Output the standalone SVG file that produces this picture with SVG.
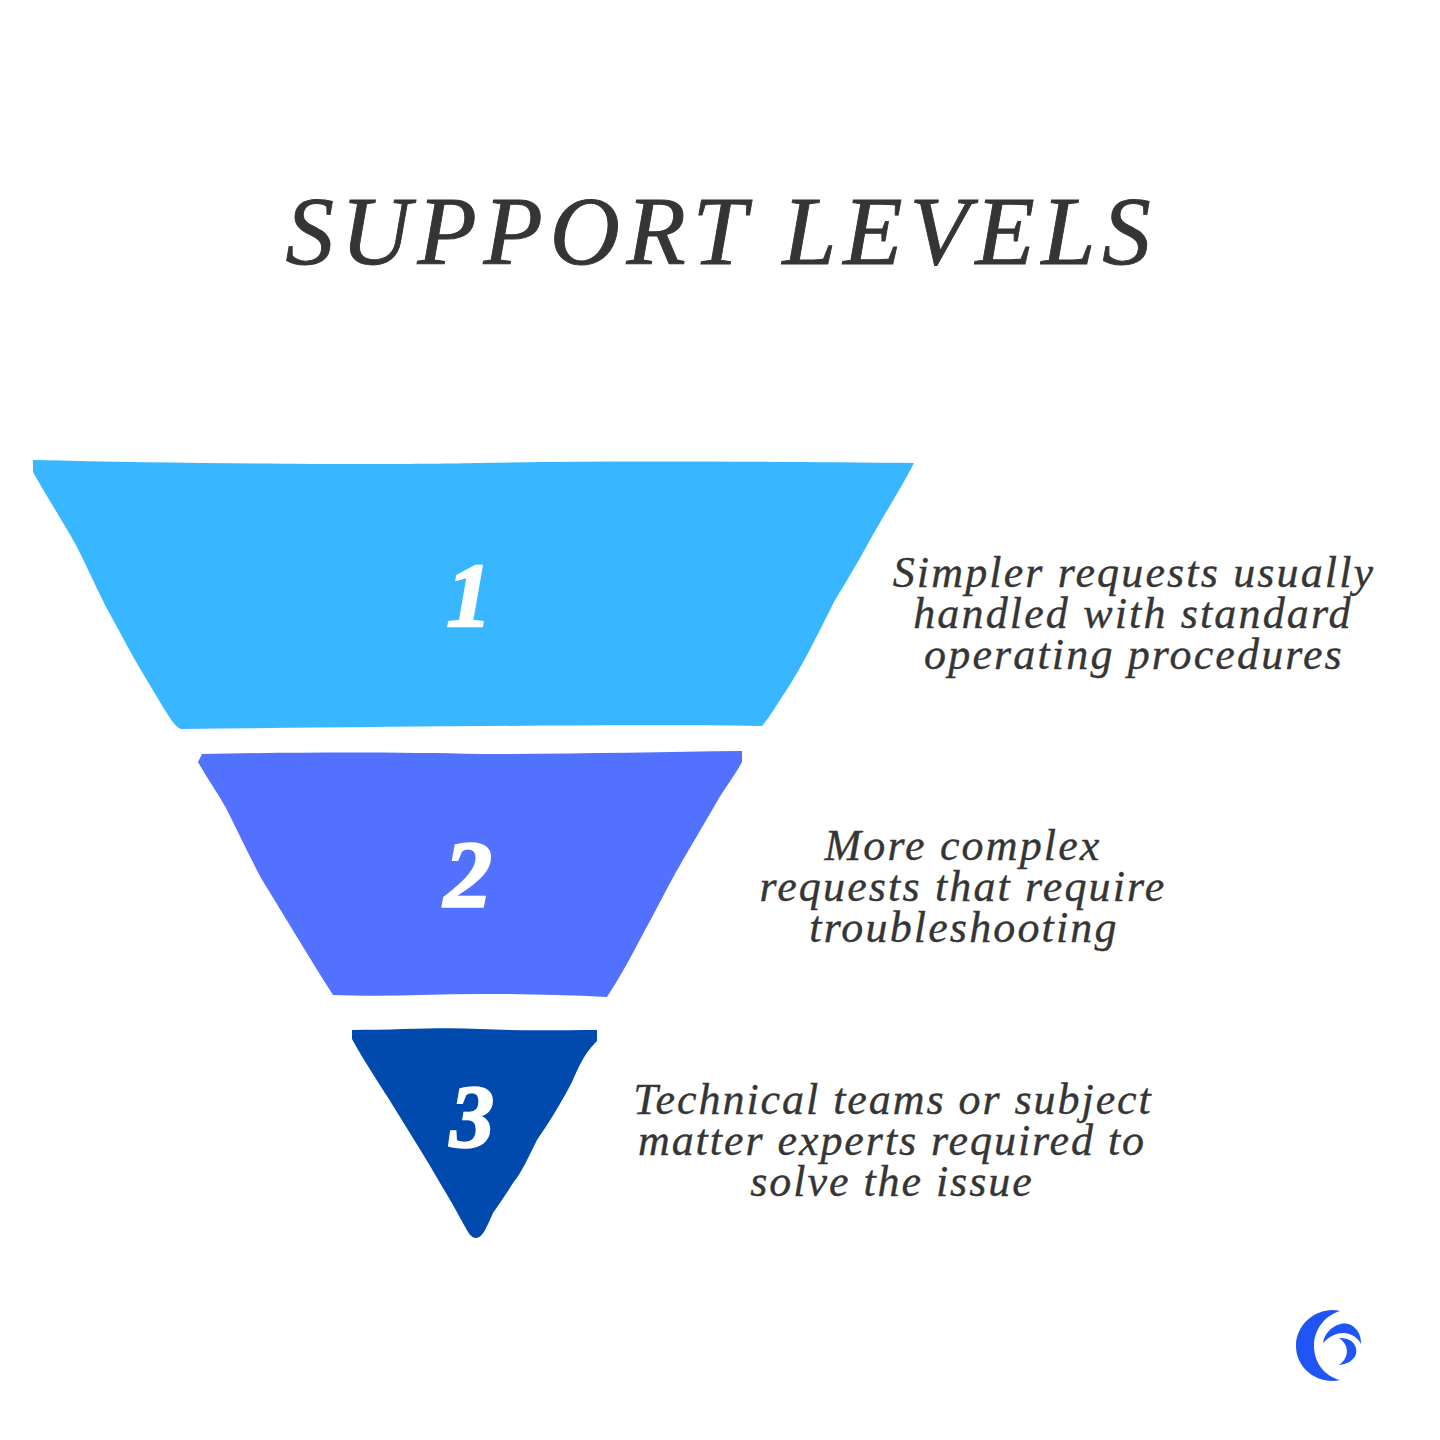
<svg xmlns="http://www.w3.org/2000/svg" width="1440" height="1440" viewBox="0 0 1440 1440">
<style>
text{font-family:"Liberation Serif","DejaVu Serif",serif;font-style:italic;fill:#353535;text-anchor:middle}
.t{font-size:97px;letter-spacing:6.8px;stroke:#353535;stroke-width:.9px}
.d{font-size:44px;letter-spacing:2.15px;stroke:#353535;stroke-width:.35px}
#desc-3 .d{letter-spacing:1.95px}
.n{font-weight:700;fill:#fff;stroke:#fff;stroke-width:2.5px}
</style>
<rect width="1440" height="1440" fill="#fff"/>
<text class="t" x="721.5" y="264">SUPPORT LEVELS</text>
<g id="level-1">
<path fill="#38b6ff" d="M33 460C200 464 400 465 480 463C620 460 780 462 914 463C900 490 885 513 870 540C858 562 846 582 835 600C825 620 815 640 806 657C796 675 787 690 778 703C772 713 767 720 762 726C600 724 400 727 181 729C175 727 170 718 163 707C154 692 145 677 135 660C125 642 116 625 106 607C96 587 87 567 77 547C62 520 47 497 33 472Z"/>
<text class="n" x="469" y="626" font-size="90">1</text>
</g>
<g id="level-2">
<path fill="#5271ff" d="M202 754C300 752 400 752 480 754C570 754 660 752 742 751V762C735 775 727 785 719 798C705 823 690 847 676 872C665 892 655 912 644 932C632 955 620 977 607 997C540 994 480 993 420 995C390 996 360 996 333 995C321 976 309 957 297 937C285 917 273 898 261 878C249 855 238 832 226 808C217 792 207 778 198 762Z"/>
<text class="n" x="468" y="907" font-size="96">2</text>
</g>
<g id="level-3">
<path fill="#004aad" d="M352 1030C400 1030 440 1027 480 1029C520 1031 560 1030 597 1030V1041C585 1053 581 1062 572 1082C560 1105 548 1124 537 1140C528 1158 522 1172 513 1183C505 1196 498 1206 493 1213C487 1226 483 1238 476 1238C471 1238 468 1232 464 1225C456 1210 448 1196 440 1183C427 1160 414 1140 400 1117C385 1092 368 1068 352 1039Z"/>
<text class="n" x="472" y="1146" font-size="88">3</text>
</g>
<g id="desc-1">
<text class="d"><tspan x="1134" y="586.5">Simpler requests usually</tspan><tspan x="1133" y="627.5">handled with standard</tspan><tspan x="1134" y="668.5">operating procedures</tspan></text>
</g>
<g id="desc-2">
<text class="d"><tspan x="963" y="859.5">More complex</tspan><tspan x="963" y="900.5">requests that require</tspan><tspan x="964" y="941.5">troubleshooting</tspan></text>
</g>
<g id="desc-3">
<text class="d"><tspan x="893" y="1113.5">Technical teams or subject</tspan><tspan x="892" y="1154.5">matter experts required to</tspan><tspan x="892" y="1195.5">solve the issue</tspan></text>
</g>
<g id="logo" fill="#1f54f5">
<path d="M1340 1311C1320 1306 1296 1322 1296 1346C1296 1370 1320 1385 1340 1380C1324 1376 1314 1362 1314 1346C1314 1330 1324 1316 1340 1311Z"/>
<path d="M1323 1343C1325 1328 1345 1316 1356 1329C1360 1334 1361 1338 1361 1344C1356 1334 1340 1326 1323 1343Z"/>
<path d="M1339 1338C1352 1337 1358 1346 1356 1354C1354 1360 1348 1364 1339 1365C1348 1359 1351 1346 1339 1338Z"/>
</g>
</svg>
